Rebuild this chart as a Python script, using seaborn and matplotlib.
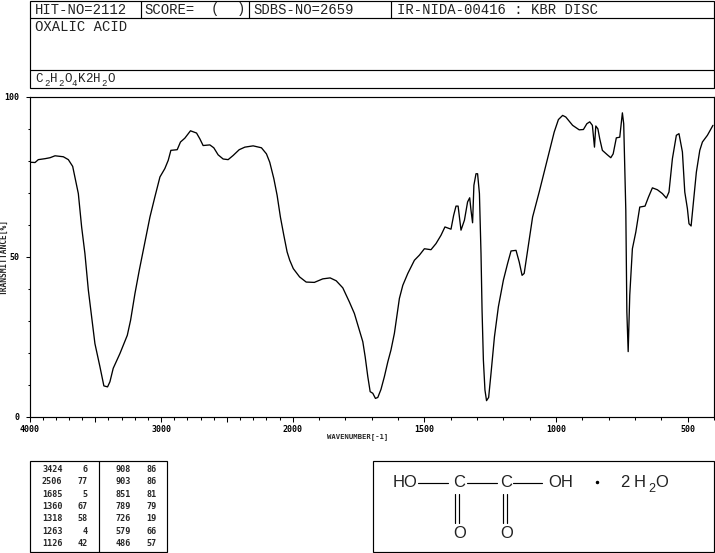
import numpy as np
import pandas as pd
import seaborn as sns
import matplotlib
matplotlib.use('Agg')
import matplotlib.pyplot as plt
from matplotlib.patches import Rectangle

#IR trace
wavenumber = [4000, 3958, 3933, 3882, 3844, 3806, 3743, 3705, 3672, 3655, 3629, 3604, 3579, 3553, 3528, 3503,
              3465, 3435, 3407, 3389, 3364, 3313, 3257, 3232, 3199, 3166, 3136, 3111, 3085, 3048, 3009, 2972,
              2946, 2926, 2878, 2853, 2820, 2777, 2731, 2706, 2681, 2630, 2600, 2567, 2529, 2491, 2453, 2407,
              2364, 2301, 2238, 2200, 2175, 2144, 2119, 2094, 2068, 2043, 2023, 1998, 1974, 1949, 1918, 1886,
              1858, 1835, 1810, 1785, 1766, 1749, 1734, 1725, 1715, 1706, 1696, 1686, 1677, 1665, 1652, 1639,
              1627, 1614, 1595, 1582, 1563, 1538, 1519, 1500, 1475, 1456, 1437, 1422, 1399, 1389, 1380, 1372,
              1361, 1348, 1336, 1328, 1323, 1317, 1312, 1304, 1298, 1291, 1285, 1281, 1276, 1270, 1264, 1256,
              1247, 1234, 1219, 1200, 1184, 1171, 1152, 1140, 1129, 1121, 1108, 1089, 1064, 1045, 1026, 1007,
              991, 975, 963, 937, 912, 896, 883, 872, 862, 854, 849, 841, 834, 824, 805, 792,
              783, 771, 758, 748, 743, 735, 731, 726, 720, 710, 697, 682, 662, 649, 634, 615,
              596, 581, 571, 558, 543, 533, 520, 511, 501, 495, 487, 478, 467, 454, 444, 425, 404]
transmittance = [79.5, 79.4, 80.3, 80.6, 80.9, 81.5, 81.2, 80.3, 78.2, 74.9, 69.7, 59.3, 51.0, 39.6, 31.3, 22.9,
                 15.7, 9.7, 9.4, 11.0, 15.2, 19.8, 25.5, 30.2, 38.5, 45.8, 52.0, 57.2, 62.4, 68.6, 74.9, 77.5,
                 80.1, 83.2, 83.4, 85.8, 87.0, 89.3, 88.6, 86.8, 84.7, 84.9, 84.0, 81.8, 80.5, 80.3, 81.6, 83.4,
                 84.2, 84.6, 84.0, 82.1, 79.5, 74.4, 69.2, 62.4, 56.7, 51.5, 48.9, 46.3, 43.7, 42.1, 42.0, 43.1,
                 43.4, 42.5, 40.3, 35.9, 32.3, 27.6, 23.5, 18.8, 12.6, 7.9, 7.4, 5.8, 6.1, 8.6, 12.6, 17.2,
                 20.9, 26.1, 37.0, 41.1, 44.8, 48.9, 50.5, 52.5, 52.2, 54.1, 56.7, 59.3, 58.6, 62.9, 65.8, 65.8,
                 58.3, 61.4, 67.1, 68.4, 64.5, 60.6, 72.3, 75.9, 75.9, 69.7, 51.0, 33.3, 17.8, 8.4, 5.1, 6.1,
                 13.6, 25.0, 34.4, 42.7, 47.9, 51.8, 52.0, 48.4, 44.2, 44.8, 52.0, 62.4, 70.2, 76.4, 82.7, 88.9,
                 92.8, 94.1, 93.6, 91.0, 89.6, 89.7, 91.5, 92.1, 91.0, 84.2, 90.8, 89.9, 86.8, 83.2, 81.8, 80.9,
                 82.1, 87.1, 87.3, 94.9, 91.5, 64.5, 32.8, 20.4, 38.0, 52.5, 57.7, 65.5, 65.8, 68.6, 71.5, 70.9,
                 69.7, 68.3, 70.2, 80.6, 87.9, 88.4, 82.7, 70.2, 65.0, 60.3, 59.6, 67.1, 76.4, 83.2, 85.8, 87.9, 91.0]

#Peak table
peaks_left_wn = ['3424', '2506', '1685', '1360', '1318', '1263', '1126']
peaks_left_t = ['6', '77', '5', '67', '58', '4', '42']
peaks_right_wn = ['908', '903', '851', '789', '726', '579', '486']
peaks_right_t = ['86', '86', '81', '79', '19', '66', '57']

x_major = [4000, 3500, 3000, 2500, 2000, 1500, 1000, 500]
x_labels = ['4000', '', '3000', '', '2000', '1500', '1000', '500']
y_major = [0, 50, 100]


#The axis is compressed by two above 2000
def forward(x):
    x = np.asarray(x, dtype=float)
    return np.where(x >= 2000, 2000 + (x - 2000) * 0.5, x)


def inverse(x):
    x = np.asarray(x, dtype=float)
    return np.where(x >= 2000, 2000 + (x - 2000) * 2, x)


sns.set_style('ticks')
plt.rcParams['font.family'] = ['Liberation Mono', 'DejaVu Sans Mono']

W, H = 715, 553
fig = plt.figure(figsize=(W / 100, H / 100), dpi=100)

#Overlay in pixel coordinates for the boxes and the text
over = fig.add_axes([0, 0, 1, 1])
over.set_xlim(0, W)
over.set_ylim(H, 0)
over.axis('off')

ax = fig.add_axes([29.5 / W, 1 - 417 / H, 684.5 / W, 320.5 / H])
ax.patch.set_alpha(0)
df = pd.DataFrame({'wavenumber': wavenumber, 'transmittance': transmittance})
sns.lineplot(data=df, x='wavenumber', y='transmittance', sort=False, estimator=None,
             color='black', linewidth=0.95, ax=ax)
ax.set_xscale('function', functions=(forward, inverse))
ax.set_xlim(4000, 400)
ax.set_ylim(0, 100)
ax.set_xticks(x_major)
ax.set_xticklabels(x_labels, fontsize=6, family='DejaVu Sans Mono', weight='bold')
ax.set_xticks(np.arange(400, 4000, 100), minor=True)
ax.set_yticks(y_major)
ax.set_yticklabels(['0', '50', '100'], fontsize=6, family='DejaVu Sans Mono', weight='bold')
ax.set_yticks(np.arange(0, 101, 10), minor=True)
ax.tick_params(axis='x', which='major', length=3.8, width=0.75, pad=1.8, color='black', labelcolor='black')
ax.tick_params(axis='x', which='minor', length=2.2, width=0.75, color='black')
ax.tick_params(axis='y', which='major', length=3.2, width=0.75, pad=4, color='black', labelcolor='black')
ax.tick_params(axis='y', which='minor', length=1.6, width=0.75, color='black')
for s in ax.spines.values():
    s.set_linewidth(0.85)
    s.set_color('black')
    s.set_visible(True)
ax.set_xlabel('')
ax.set_ylabel('')
over.text(358, 437, 'WAVENUMBER[-1]', fontsize=5.2, family='DejaVu Sans Mono', weight='bold', ha='center', va='center')
over.text(4.5, 257, 'TRANSMITTANCE[%]', fontsize=5.7, family='DejaVu Sans Mono', weight='bold', rotation=90, ha='center', va='center')


def box(x0, y0, x1, y1):
    over.add_patch(Rectangle((x0, y0), x1 - x0, y1 - y0, fill=False, ec='black', lw=0.85))


def hline(x0, x1, y):
    over.plot([x0, x1], [y, y], color='black', lw=0.85)


def vline(x, y0, y1):
    over.plot([x, x], [y0, y1], color='black', lw=0.85)


#Header
box(29.5, 0.5, 713.5, 87.5)
hline(29.5, 713.5, 17.5)
hline(29.5, 713.5, 69.5)
for xv in [140.5, 248.5, 390.5]:
    vline(xv, 0.5, 17.5)
head = dict(fontsize=10, ha='left', va='center', color='#222222')
over.text(35, 9.5, 'HIT-NO=2112', **head)
over.text(144, 9.5, 'SCORE=', **head)
over.text(211, 9.5, '(', **head)
over.text(237, 9.5, ')', **head)
over.text(253, 9.5, 'SDBS-NO=2659', **head)
over.text(397, 9.5, 'IR-NIDA-00416 : KBR DISC', **head)
over.text(35, 27, 'OXALIC ACID', **head)

#Formula piece by piece, the subscripts sit lower
formula = [(35, 'C', 0), (44, '2', 1), (50, 'H', 0), (58, '2', 1), (64, 'O', 0), (72, '4', 1),
           (78, 'K', 0), (85.6, '2', 0), (93.2, 'H', 0), (101, '2', 1), (107.5, 'O', 0)]
for xv, ch, sub in formula:
    if sub:
        over.text(xv, 83, ch, fontsize=6.5, ha='left', va='center', color='#222222')
    else:
        over.text(xv, 79, ch, fontsize=9, ha='left', va='center', color='#222222')

#Peak table
box(29.5, 460.5, 166.5, 551.8)
vline(98.5, 460.5, 551.8)
tab = dict(fontsize=6.1, family='DejaVu Sans Mono', weight='bold', ha='right', va='center')
for i in range(len(peaks_left_wn)):
    yy = 469.5 + i * 12.33
    over.text(62.5, yy, peaks_left_wn[i], **tab)
    over.text(87.5, yy, peaks_left_t[i], **tab)
    over.text(130.5, yy, peaks_right_wn[i], **tab)
    over.text(156.5, yy, peaks_right_t[i], **tab)

#Structure
box(372.5, 460.5, 714, 551.8)
st = dict(fontsize=12, family='Liberation Sans', ha='center', va='center', color='#222222')
yb = 482.5
over.text(405, yb, 'HO', **st)
over.text(459, yb, 'C', **st)
over.text(506, yb, 'C', **st)
over.text(561, yb, 'OH', **st)
over.text(625, yb, '2', **st)
over.text(640, yb, 'H', **st)
over.text(652, yb + 6, '2', fontsize=9, family='Liberation Sans', ha='center', va='center', color='#222222')
over.text(662, yb, 'O', **st)
over.text(460, 534, 'O', **st)
over.text(507, 534, 'O', **st)
over.plot([597], [481.5], marker='o', ms=1.5, color='black')
hline(418, 448, yb)
hline(467, 497, yb)
hline(513, 542, yb)
vline(455, 494, 523)
vline(459, 494, 523)
vline(503, 494, 523)
vline(507, 494, 523)

fig.savefig('out.png', dpi=100)
